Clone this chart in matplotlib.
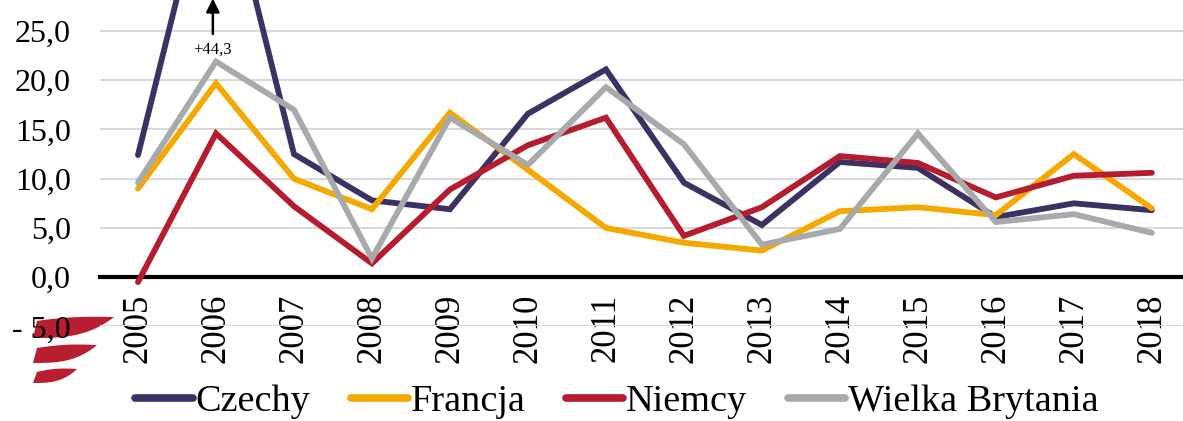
import matplotlib.pyplot as plt
import numpy as np
from matplotlib.patches import Polygon

plt.rcParams['font.family'] = ['Liberation Serif', 'DejaVu Serif']

# data
years = ['2005', '2006', '2007', '2008', '2009', '2010', '2011',
         '2012', '2013', '2014', '2015', '2016', '2017', '2018']
czechy = [12.4, 44.3, 12.5, 7.8, 6.9, 16.6, 21.1, 9.6, 5.3, 11.7, 11.1, 6.1, 7.5, 6.8]
francja = [9.0, 19.7, 10.0, 6.9, 16.7, 10.9, 5.0, 3.5, 2.7, 6.7, 7.1, 6.3, 12.5, 7.0]
niemcy = [-0.5, 14.6, 7.2, 1.4, 8.9, 13.4, 16.2, 4.2, 7.1, 12.3, 11.6, 8.1, 10.3, 10.6]
wielka_brytania = [9.6, 21.9, 17.0, 1.9, 16.2, 11.4, 19.3, 13.5, 3.3, 4.9, 14.6, 5.6, 6.4, 4.5]

y_ticks = [-5, 0, 5, 10, 15, 20, 25]
y_tick_labels = ['- 5,0', '0,0', '5,0', '10,0', '15,0', '20,0', '25,0']
outlier_label = '+44,3'

series = [
    ('Czechy', czechy, '#3d3063'),
    ('Francja', francja, '#f5a900'),
    ('Niemcy', niemcy, '#b51c2e'),
    ('Wielka Brytania', wielka_brytania, '#a7a9ab'),
]

W, H = 1183, 421
fig = plt.figure(figsize=(W / 100, H / 100), dpi=100)
ax = fig.add_axes([100 / W, 1 - 326.4 / H, 1 - 100 / W, 326.4 / H])
ax.set_facecolor('none')

x = np.arange(len(years))
lines = []
for name, vals, col in series:
    ln, = ax.plot(x, vals, color=col, linewidth=4.2, label=name,
                  solid_capstyle='round', solid_joinstyle='miter', zorder=3)
    lines.append(ln)

ax.set_xlim(-0.487, 13.4)
ax.set_ylim(-5, 28.15)

# grid
ax.set_yticks(y_ticks)
ax.set_yticklabels(y_tick_labels)
ax.grid(axis='y', color='#d9d9d9', linewidth=1.5, zorder=0)
ax.set_axisbelow(True)

for s in ['top', 'right', 'left']:
    ax.spines[s].set_visible(False)
ax.spines['bottom'].set_position(('data', 0))
ax.spines['bottom'].set_linewidth(3)
ax.spines['bottom'].set_zorder(2)

ax.set_xticks(x)
ax.set_xticklabels(years, rotation=90, fontsize=25)
ax.tick_params(axis='x', length=0, pad=12)
ax.tick_params(axis='y', length=0, pad=21, labelsize=23)

# outlier arrow for Czechy 2006
ax.annotate('', xy=(0.96, 28.3), xytext=(0.96, 24.7),
            arrowprops=dict(arrowstyle='-|>', color='black', lw=1.8,
                            mutation_scale=20, shrinkA=0, shrinkB=0),
            annotation_clip=False, zorder=5)
ax.text(0.96, 23.1, outlier_label, ha='center', va='center', fontsize=12, zorder=5)

# legend
fig.legend(handles=lines, loc='center', bbox_to_anchor=(617 / W, 1 - 402 / H),
           ncol=4, frameon=False, fontsize=27.5, handlelength=1.5,
           handletextpad=0.08, columnspacing=1.05, borderaxespad=0)
for lh in fig.legends[0].get_lines():
    lh.set_linewidth(5.5)

# small red logo at bottom left (pixel coords, y down)
def stripe(x0, x1, yl_top, yl_bot, yr):
    t = np.linspace(0, 1, 40)
    xs_top = x0 + 4 + (x1 - x0 - 4) * t
    xs_bot = x0 + (x1 - x0) * t
    y_top = yl_top + (yr - yl_top) * t ** 0.8 - 1.5 * np.sin(np.pi * t)
    y_bot = yl_bot + (yr - yl_bot) * t ** 3
    pts = np.vstack([np.column_stack([xs_top, y_top]),
                     np.column_stack([xs_bot[::-1], y_bot[::-1]])])
    pts[:, 0] /= W
    pts[:, 1] = 1 - pts[:, 1] / H
    return Polygon(pts, closed=True, transform=fig.transFigure,
                   facecolor='#b81d30', edgecolor='none', zorder=-1)

for args in [(33, 114, 321, 338, 317), (33, 97, 348, 363, 345), (33, 77, 372, 383, 369)]:
    fig.patches.append(stripe(*args))

fig.savefig('out.png', dpi=100)
